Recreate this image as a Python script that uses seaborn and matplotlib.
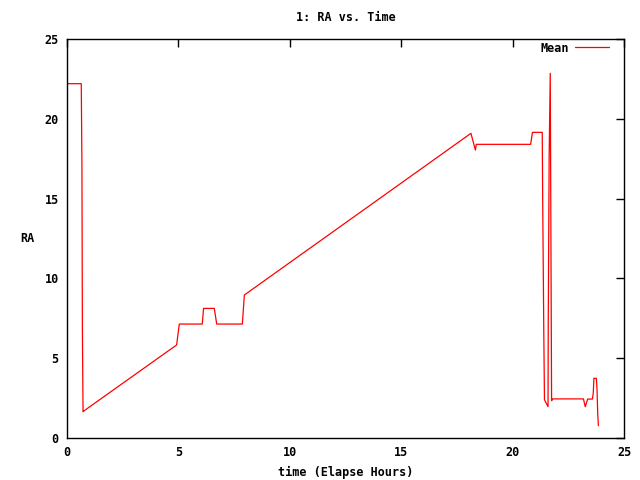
import pandas as pd
import matplotlib
matplotlib.use("Agg")
import matplotlib.pyplot as plt
import seaborn as sns

# RA trace (vertices)
hours = [0.0, 0.64, 0.67, 0.69, 0.72, 0.76, 4.92, 5.04, 6.07, 6.13, 6.61, 6.72,
         7.87, 7.96, 18.13, 18.33, 18.37, 20.81, 20.89, 21.33, 21.35, 21.40,
         21.43, 21.59, 21.60, 21.64, 21.69, 21.72, 21.75, 21.80, 23.18, 23.26,
         23.37, 23.58, 23.62, 23.65, 23.76, 23.79, 23.82, 23.85]
ra = [22.2, 22.2, 17.0, 6.8, 1.65, 1.7, 5.83, 7.14, 7.14, 8.12, 8.12, 7.14,
      7.14, 8.96, 19.09, 18.04, 18.4, 18.4, 19.15, 19.15, 15.0, 6.6,
      2.4, 1.96, 7.18, 17.6, 22.85, 12.6, 2.34, 2.45, 2.45, 1.96,
      2.44, 2.44, 2.8, 3.74, 3.74, 3.0, 1.55, 0.77]
x_ticks = [0, 5, 10, 15, 20, 25]
y_ticks = [0, 5, 10, 15, 20, 25]

df = pd.DataFrame({"time": hours, "RA": ra})

sns.set_style("white")
plt.rcParams["font.family"] = ["DejaVu Sans Mono"]
plt.rcParams["font.weight"] = "bold"
plt.rcParams["font.size"] = 8.5
plt.rcParams["text.color"] = "black"
plt.rcParams["axes.labelcolor"] = "black"

fig = plt.figure(figsize=(6.4, 4.8), dpi=100)
ax = fig.add_axes([0.1047, 0.0875, 0.8703, 0.83125])

sns.lineplot(data=df, x="time", y="RA", sort=False, estimator=None,
             color="#ff0000", linewidth=0.9, label="Mean", ax=ax)

ax.set_xlim(0, 25)
ax.set_ylim(0, 25)
ax.set_xticks(x_ticks)
ax.set_yticks(y_ticks)
ax.tick_params(direction="in", length=6, width=1, top=True, right=True,
               colors="black", labelsize=8.5, pad=6)
for side in ax.spines.values():
    side.set_color("black")
    side.set_linewidth(1)

ax.set_title("1: RA vs. Time", fontsize=8.5, fontweight="bold", color="black", pad=13)
ax.set_xlabel("time (Elapse Hours)", fontsize=8.5, fontweight="bold", labelpad=5)
ax.set_ylabel("RA", fontsize=8.5, fontweight="bold", rotation=0, labelpad=12, va="center")

leg = ax.legend(loc="center right", bbox_to_anchor=(609 / 640, 1 - 48 / 480),
                bbox_transform=fig.transFigure, frameon=False, handlelength=2.9,
                handletextpad=0.5, borderpad=0, borderaxespad=0, markerfirst=False,
                prop={"family": "DejaVu Sans Mono", "weight": "bold", "size": 8.5})

fig.savefig("out.png", dpi=100)
plt.close(fig)
